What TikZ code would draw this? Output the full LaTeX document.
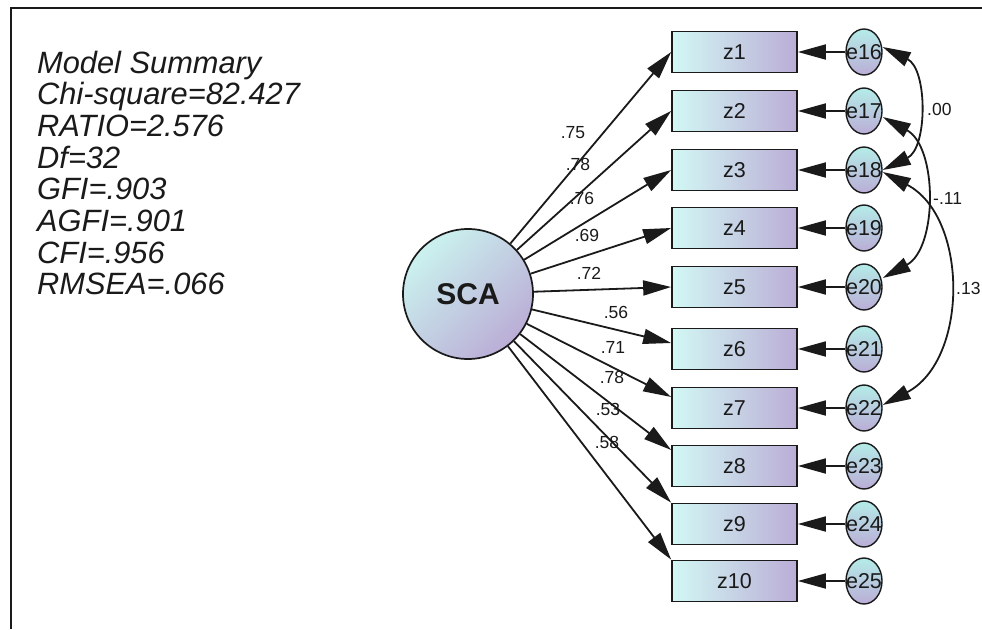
\documentclass[tikz,border=0pt]{standalone}
\usepackage{fontspec}
\setmainfont{Liberation Sans}
\usetikzlibrary{arrows.meta,shapes.geometric,calc}
\definecolor{cyA}{HTML}{D2F8F4}
\definecolor{cyB}{HTML}{B4ECE8}
\definecolor{lav}{HTML}{BBADD6}
\definecolor{ink}{HTML}{1A1A1A}
\begin{document}
\begin{tikzpicture}[x=1pt,y=-1pt,
  box/.style={draw=ink, line width=1.7pt, minimum width=125pt, minimum height=41pt,
    inner sep=0pt, left color=cyA, right color=lav, text=ink,
    font=\fontsize{21.5}{23}\selectfont},
  err/.style={ellipse, draw=ink, line width=1.4pt, minimum width=36pt, minimum height=46pt,
    inner sep=0pt, top color=cyB, bottom color=lav, text=ink,
    font=\fontsize{21.5}{23}\selectfont},
  lat/.style={circle, draw=ink, line width=1.7pt, minimum size=130pt, inner sep=0pt,
    top color=cyB!70!white, bottom color=lav, shading angle=45, text=ink,
    font=\bfseries\fontsize{30}{32}\selectfont},
  tipx/.tip={Triangle[length=28pt,width=15pt]},
  arr/.style={-tipx, line width=1.8pt, draw=ink},
  dbl/.style={tipx-tipx, line width=1.8pt, draw=ink},
  wt/.style={text=ink, font=\fontsize{17.5}{19}\selectfont, inner sep=0pt},
  summ/.style={anchor=base west, inner sep=0pt, text=ink, font=\itshape\fontsize{30.8}{33}\selectfont}
]
\useasboundingbox (0,0) rectangle (982,629);
\fill[white] (0,0) rectangle (982,629);
% frame
\draw[line width=2pt, ink] (10.5,629) -- (10.5,8) -- (982,8);

% model summary
\node[summ] (s1) at (37,73) {Model Summary};
\node[summ] (s2) at (37,104.5) {Chi-square=82.427};
\node[summ] (s3) at (37,136) {RATIO=2.576};
\node[summ] (s4) at (37,168) {Df=32};
\node[summ] (s5) at (37,199.5) {GFI=.903};
\node[summ] (s6) at (37,231) {AGFI=.901};
\node[summ] (s7) at (37,263) {CFI=.956};
\node[summ] (s8) at (37,294.5) {RMSEA=.066};

% latent
\node[lat] (SCA) at (468,294) {SCA};

% observed
\foreach \i/\y in {1/52,2/111,3/170,4/228,5/287,6/349,7/408,8/466,9/524,10/581}{
  \node[box] (z\i) at (734.5,\y) {z\i};
}
% errors
\foreach \i/\e/\y in {1/16/52,2/17/111,3/18/170,4/19/228,5/20/287,6/21/349,7/22/408,8/23/466,9/24/524,10/25/581}{
  \node[err] (e\e) at (864,\y) {\makebox[0pt]{e\e}};
  \draw[arr] (e\e) -- (z\i);
}

% loadings
\draw[arr] (SCA) -- (z1.west);
\draw[arr] (SCA) -- (z2.west);
\draw[arr] (SCA) -- (z3.west);
\draw[arr] (SCA) -- (z4.west);
\draw[arr] (SCA) -- (z5.west);
\draw[arr] (SCA) -- ([yshift=6pt]z6.west);
\draw[arr] (SCA) -- ([yshift=11pt]z7.west);
\draw[arr] (SCA) -- ([yshift=16pt]z8.west);
\draw[arr] (SCA) -- (z9.north west);
\draw[arr] (SCA) -- (z10.north west);

\node[wt] (l1) at (573,133) {.75};
\node[wt] (l2) at (578,164) {.78};
\node[wt] (l3) at (582,198) {.76};
\node[wt] (l4) at (587,235) {.69};
\node[wt] (l5) at (589,273) {.72};
\node[wt] (l6) at (616,312) {.56};
\node[wt] (l7) at (613,347) {.71};
\node[wt] (l8) at (612,377) {.78};
\node[wt] (l9) at (608,409) {.53};
\node[wt] (l10) at (607,442) {.58};

% covariances
\draw[dbl] ([yshift=5pt]e16.east) .. controls +(45,22) and +(45,-22) .. (e18.east);
\draw[dbl] ([yshift=-6pt]e17.east) .. controls +(55,30) and +(55,-30) .. ([yshift=9pt]e20.east);
\draw[dbl] ([yshift=-2pt]e18.east) .. controls +(86,45) and +(86,-45) .. ([yshift=3pt]e22.east);

\node[wt, anchor=west] (c1) at (927,109) {.00};
\node[wt, anchor=west] (c2) at (933,198) {-.11};
\node[wt, anchor=west] (c3) at (956,288) {.13};
\end{tikzpicture}
\end{document}
